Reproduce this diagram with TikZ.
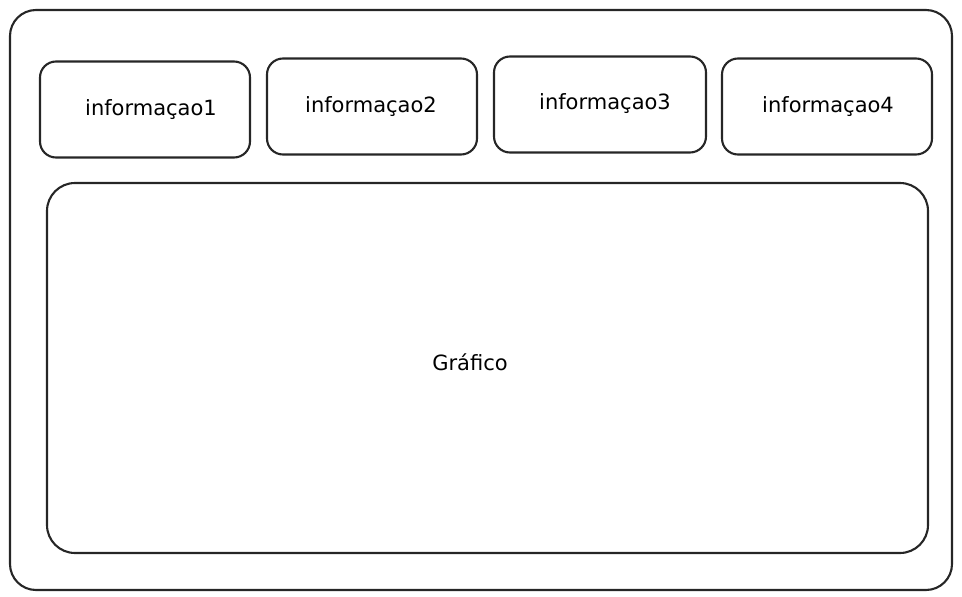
\documentclass[tikz,border=0pt]{standalone}
\usepackage{fontspec}
\setmainfont{DejaVu Sans}
\tikzset{
	caixa/.style={draw=black!85,line width=2.1pt,rounded corners=16pt,minimum width=210pt,minimum height=96pt,inner sep=0pt},
	texto/.style={inner sep=0pt,font=\fontsize{21}{24}\selectfont}
}
\begin{document}
\begin{tikzpicture}[x=1pt,y=-1pt]
		\useasboundingbox (0,0) rectangle (962,597);
		% moldura externa
		\node[draw=black!85,line width=2.1pt,rounded corners=26pt,minimum width=942pt,minimum height=580pt,inner sep=0pt](tela) at (481,300){};
		% caixas de informacao
		\node[caixa](info1) at (145,109.5){};
		\node[caixa](info2) at (372,106.5){};
		\node[caixa,minimum width=212pt](info3) at (600,104.5){};
		\node[caixa](info4) at (827,106.5){};
		\node[texto](t1) at (151,110){informaçao1};
		\node[texto](t2) at (371,107){informaçao2};
		\node[texto](t3) at (605,104){informaçao3};
		\node[texto](t4) at (828,107){informaçao4};
		% area do grafico
		\node[caixa,rounded corners=28pt,minimum width=881pt,minimum height=370pt](grafico) at (487.5,368){};
		\node[texto](tg) at (470,362){Gráfico};
	    \end{tikzpicture}
\end{document}
